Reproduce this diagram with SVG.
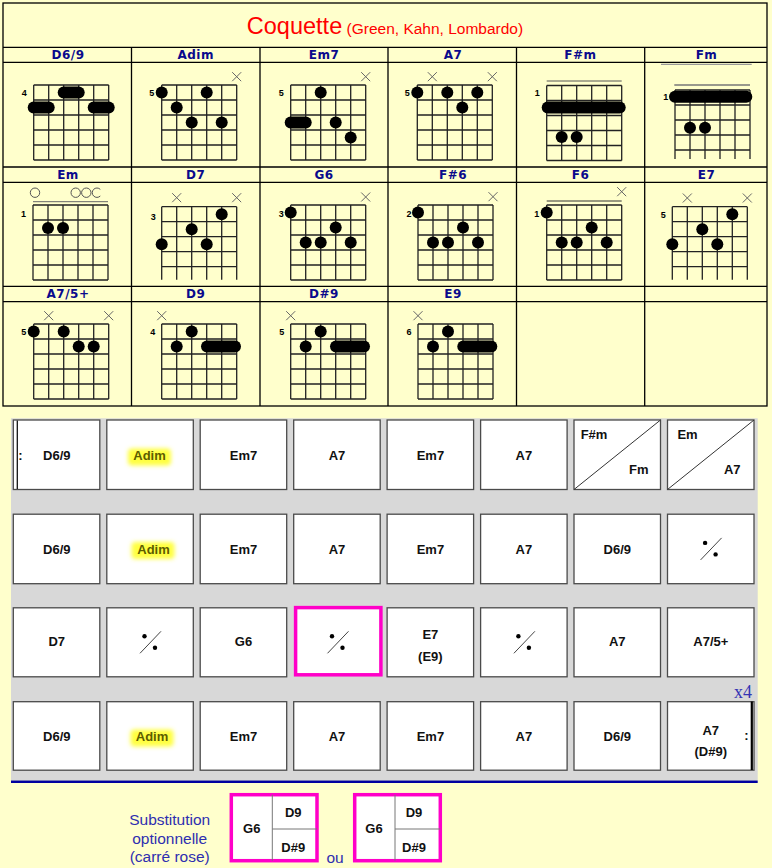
<svg xmlns="http://www.w3.org/2000/svg" xmlns:xlink="http://www.w3.org/1999/xlink" width="772" height="868" viewBox="0 0 772 868">
<style>
.tl{fill:none;stroke:#000;stroke-width:1.3}
.grid{fill:none;stroke:#222;stroke-width:1.3}
.lite{fill:none;stroke:#888;stroke-width:1}
.hd{font-family:"DejaVu Sans",Verdana,sans-serif;font-weight:bold;font-size:12px;fill:#0a0a8c;text-anchor:middle;letter-spacing:0.5px}
.fn{font-family:"Liberation Sans",Arial,sans-serif;font-weight:bold;font-size:9px;fill:#000;text-anchor:middle}
.cell{fill:#fff;stroke:#4a4a4a;stroke-width:1.3}
.ct{font-family:"Liberation Sans",Arial,sans-serif;font-weight:bold;font-size:13px;fill:#111;text-anchor:middle}
.adim{font-family:"Liberation Sans",Arial,sans-serif;font-weight:bold;font-size:13px;fill:#5c5c00;text-anchor:middle}
.hl{fill:#ffff40;filter:url(#glow)}
.pink{fill:#fff;stroke:#ff00c8;stroke-width:3.5}
.blue{font-family:"Liberation Sans",Arial,sans-serif;font-size:15.5px;fill:#2e2eb0;text-anchor:middle}
</style>
<defs>
<filter id="glow" x="-50%" y="-80%" width="200%" height="260%"><feGaussianBlur stdDeviation="2.2"/></filter>
<path id="g5" class="grid" d="M0 0H75M0 15H75M0 30H75M0 45H75M0 60H75M0 75H75M0 0V75M15 0V75M30 0V75M45 0V75M60 0V75M75 0V75"/>
<path id="gop" class="grid" d="M0 0H75M0 15H75M0 30H75M0 45H75M0 60H75M0 0V73M15 0V73M30 0V73M45 0V73M60 0V73M75 0V73"/>
<path id="xm" fill="none" stroke="#666" stroke-width="1" d="M-4.5 -4.5L4.5 4.5M4.5 -4.5L-4.5 4.5"/>
<circle id="d" r="6" fill="#000"/>
<g id="rpt"><line x1="-10" y1="11" x2="11" y2="-11" stroke="#444" stroke-width="1"/><circle cx="-5.5" cy="-6" r="2.2" fill="#000"/><circle cx="5" cy="5.5" r="2.2" fill="#000"/></g>
</defs>
<rect width="772" height="868" fill="#ffffcc"/>

<g id="chord-table">
<rect x="3" y="3" width="764" height="403" fill="#fff" class="tl"/>
<path class="tl" d="M3 47.3H767M3 62.3H767M3 167H767M3 182.3H767M3 286.3H767M3 301.7H767M131.5 47.3V406M260 47.3V406M388 47.3V406M516.5 47.3V406M644.7 47.3V406"/>
<text x="385" y="33.5" text-anchor="middle" font-family="'Liberation Sans',Tahoma,sans-serif" fill="#ff0000"><tspan font-size="23.5">Coquette</tspan><tspan font-size="15.5"> (Green, Kahn, Lombardo)</tspan></text>
<text class="hd" x="68" y="58.5">D6/9</text>
<text class="hd" x="195.7" y="58.5">Adim</text>
<text class="hd" x="324" y="58.5">Em7</text>
<text class="hd" x="453" y="58.5">A7</text>
<text class="hd" x="580.5" y="58.5">F#m</text>
<text class="hd" x="706.5" y="58.5">Fm</text>
<text class="hd" x="68" y="178.8">Em</text>
<text class="hd" x="195.7" y="178.8">D7</text>
<text class="hd" x="324" y="178.8">G6</text>
<text class="hd" x="453" y="178.8">F#6</text>
<text class="hd" x="580.5" y="178.8">F6</text>
<text class="hd" x="706.5" y="178.8">E7</text>
<text class="hd" x="68" y="298.3">A7/5+</text>
<text class="hd" x="195.7" y="298.3">D9</text>
<text class="hd" x="324" y="298.3">D#9</text>
<text class="hd" x="453" y="298.3">E9</text>
</g>

<g id="chord-D69" transform="translate(33.7,85)">
<use href="#g5"/><text class="fn" x="-9.5" y="11">4</text>
<rect x="24" y="1.5" width="27" height="12" rx="6"/>
<rect x="-6" y="16.5" width="27" height="12" rx="6"/>
<rect x="54" y="16.5" width="27" height="12" rx="6"/>
</g>
<g id="chord-Adim" transform="translate(161.7,85)">
<use href="#g5"/><text class="fn" x="-10" y="11">5</text><use href="#xm" x="75" y="-8.3"/>
<use href="#d" x="0" y="7.5"/><use href="#d" x="45" y="7.5"/><use href="#d" x="15" y="22.5"/><use href="#d" x="30" y="37.5"/><use href="#d" x="60" y="37.5"/>
</g>
<g id="chord-Em7" transform="translate(290.7,85)">
<use href="#g5"/><text class="fn" x="-9.5" y="11">5</text><use href="#xm" x="75" y="-8.3"/>
<use href="#d" x="30" y="7.5"/><rect x="-6" y="31.5" width="27" height="12" rx="6"/><use href="#d" x="45" y="37.5"/><use href="#d" x="60" y="52.5"/>
</g>
<g id="chord-A7" transform="translate(417.3,85)">
<use href="#g5"/><text class="fn" x="-10" y="11">5</text><use href="#xm" x="15" y="-8.3"/><use href="#xm" x="75" y="-8.3"/>
<use href="#d" x="0" y="7.5"/><use href="#d" x="30" y="7.5"/><use href="#d" x="60" y="7.5"/><use href="#d" x="45" y="22.5"/>
</g>
<g id="chord-Fsm" transform="translate(546.7,85.5)">
<line x1="0" y1="-4.5" x2="75" y2="-4.5" stroke="#555" stroke-width="1"/>
<use href="#g5"/><text class="fn" x="-9.5" y="10.5">1</text>
<rect x="-5" y="16" width="84" height="12" rx="6"/>
<use href="#d" x="15" y="51.5"/><use href="#d" x="30" y="51.5"/>
</g>
<g id="chord-Fm" transform="translate(675,90)">
<line x1="-14" y1="-25.7" x2="76.7" y2="-25.7" stroke="#999" stroke-width="1.3"/>
<line x1="-0.7" y1="-5" x2="75" y2="-5" stroke="#777" stroke-width="1.3"/>
<path class="grid" d="M0 0H75M0 15H75M0 30H75M0 45H75M0 60H75M0 0V69M15 0V69M30 0V69M45 0V69M60 0V69M75 0V69"/>
<text class="fn" x="-9.3" y="10">1</text>
<rect x="-6" y="0.7" width="83.3" height="12" rx="6"/>
<use href="#d" x="15" y="37.7"/><use href="#d" x="30" y="37.7"/>
</g>

<g id="chord-Em" transform="translate(33,205)">
<g fill="none" stroke="#555" stroke-width="1"><circle cx="2" cy="-12.3" r="4.7"/><circle cx="42.7" cy="-12.3" r="4.7"/><circle cx="53.3" cy="-12.3" r="4.7"/><path d="M67.3 -15.6A4.7 4.7 0 1 0 67.3 -9"/></g>
<line x1="0" y1="-3.3" x2="75" y2="-3.3" stroke="#666" stroke-width="1"/>
<use href="#g5"/><text class="fn" x="-9.5" y="11.5">1</text>
<use href="#d" x="15" y="23"/><use href="#d" x="30" y="23"/>
</g>
<g id="chord-D7" transform="translate(161.7,206.7)">
<use href="#gop"/><text class="fn" x="-8.5" y="13">3</text><use href="#xm" x="15" y="-9"/><use href="#xm" x="75" y="-9"/>
<use href="#d" x="60" y="7.5"/><use href="#d" x="30" y="22.5"/><use href="#d" x="0" y="37.5"/><use href="#d" x="45" y="37.5"/>
</g>
<g id="chord-G6" transform="translate(290.7,205)">
<use href="#g5"/><text class="fn" x="-9.5" y="11.5">3</text><use href="#xm" x="75" y="-8"/>
<use href="#d" x="0" y="7.5"/><use href="#d" x="45" y="22.5"/><use href="#d" x="15" y="37.5"/><use href="#d" x="30" y="37.5"/><use href="#d" x="60" y="37.5"/>
</g>
<g id="chord-Fs6" transform="translate(418,205)">
<use href="#g5"/><text class="fn" x="-9" y="11.5">2</text><use href="#xm" x="75" y="-8.3"/>
<use href="#d" x="0" y="7.5"/><use href="#d" x="45" y="22.5"/><use href="#d" x="15" y="37.5"/><use href="#d" x="30" y="37.5"/><use href="#d" x="60" y="37.5"/>
</g>
<g id="chord-F6" transform="translate(546.7,205)">
<line x1="0" y1="-4" x2="75" y2="-4" stroke="#333" stroke-width="1"/>
<use href="#g5"/><text class="fn" x="-10" y="11.5">1</text><use href="#xm" x="75" y="-13.3"/>
<use href="#d" x="0" y="7.5"/><use href="#d" x="45" y="22.5"/><use href="#d" x="15" y="37.5"/><use href="#d" x="30" y="37.5"/><use href="#d" x="60" y="37.5"/>
</g>
<g id="chord-E7" transform="translate(672.3,206.7)">
<use href="#gop"/><text class="fn" x="-9" y="11.5">5</text><use href="#xm" x="15" y="-8.7"/><use href="#xm" x="75" y="-8.7"/>
<use href="#d" x="60" y="7.5"/><use href="#d" x="30" y="22.5"/><use href="#d" x="0" y="37.5"/><use href="#d" x="45" y="37.5"/>
</g>

<g id="chord-A75p" transform="translate(33.7,324)">
<use href="#g5"/><text class="fn" x="-10" y="11">5</text><use href="#xm" x="15" y="-8.3"/><use href="#xm" x="75" y="-8.3"/>
<use href="#d" x="0" y="7.5"/><use href="#d" x="30" y="7.5"/><use href="#d" x="45" y="22.5"/><use href="#d" x="60" y="22.5"/>
</g>
<g id="chord-D9" transform="translate(161.7,324)">
<use href="#g5"/><text class="fn" x="-9" y="11">4</text><use href="#xm" x="0" y="-8.3"/>
<use href="#d" x="30" y="7.5"/><use href="#d" x="15" y="22.5"/><rect x="39.3" y="16.5" width="40" height="12" rx="6"/>
</g>
<g id="chord-Ds9" transform="translate(290.7,324)">
<use href="#g5"/><text class="fn" x="-9" y="11">5</text><use href="#xm" x="0" y="-8.3"/>
<use href="#d" x="30" y="7.5"/><use href="#d" x="15" y="22.5"/><rect x="39.3" y="16.5" width="40" height="12" rx="6"/>
</g>
<g id="chord-E9" transform="translate(418,324)">
<use href="#g5"/><text class="fn" x="-9" y="11">6</text><use href="#xm" x="0" y="-8.3"/>
<use href="#d" x="30" y="7.5"/><use href="#d" x="15" y="22.5"/><rect x="39.3" y="16.5" width="40" height="12" rx="6"/>
</g>

<g id="grid-panel">
<rect x="11" y="418.3" width="746.7" height="362" fill="#d8d8d8"/>
<line x1="11" y1="781.7" x2="757.7" y2="781.7" stroke="#0000a0" stroke-width="2.5"/>
</g>

<g id="row1">
<rect class="cell" x="13.3" y="420" width="86.5" height="69.5"/>
<line x1="17.3" y1="420.6" x2="17.3" y2="489" stroke="#111" stroke-width="1.3"/>
<text class="ct" x="20.5" y="459.5">:</text>
<text class="ct" x="56.8" y="459.5">D6/9</text>
<rect class="cell" x="106.8" y="420" width="86.5" height="69.5"/>
<rect class="hl" x="128" y="448.5" width="43" height="17" rx="4"/>
<text class="adim" x="149.5" y="460">Adim</text>
<rect class="cell" x="200.2" y="420" width="86.5" height="69.5"/><text class="ct" x="243.5" y="459.5">Em7</text>
<rect class="cell" x="293.7" y="420" width="86.5" height="69.5"/><text class="ct" x="337" y="459.5">A7</text>
<rect class="cell" x="387.1" y="420" width="86.5" height="69.5"/><text class="ct" x="430.4" y="459.5">Em7</text>
<rect class="cell" x="480.6" y="420" width="86.5" height="69.5"/><text class="ct" x="523.9" y="459.5">A7</text>
<rect class="cell" x="574" y="420" width="86.5" height="69.5"/>
<line x1="574" y1="489.5" x2="660.5" y2="420" stroke="#333" stroke-width="1"/>
<text class="ct" x="594" y="438.5">F#m</text><text class="ct" x="638.7" y="473.5">Fm</text>
<rect class="cell" x="667.5" y="420" width="86.5" height="69.5"/>
<line x1="667.5" y1="489.5" x2="754" y2="420" stroke="#333" stroke-width="1"/>
<text class="ct" x="687.5" y="438.5">Em</text><text class="ct" x="732.2" y="473.5">A7</text>
</g>

<g id="row2">
<rect class="cell" x="13.3" y="514.2" width="86.5" height="69.5"/><text class="ct" x="56.8" y="553.5">D6/9</text>
<rect class="cell" x="106.8" y="514.2" width="86.5" height="69.5"/>
<rect class="hl" x="131.5" y="542" width="43" height="17" rx="4"/>
<text class="adim" x="153.5" y="553.5">Adim</text>
<rect class="cell" x="200.2" y="514.2" width="86.5" height="69.5"/><text class="ct" x="243.5" y="553.5">Em7</text>
<rect class="cell" x="293.7" y="514.2" width="86.5" height="69.5"/><text class="ct" x="337" y="553.5">A7</text>
<rect class="cell" x="387.1" y="514.2" width="86.5" height="69.5"/><text class="ct" x="430.4" y="553.5">Em7</text>
<rect class="cell" x="480.6" y="514.2" width="86.5" height="69.5"/><text class="ct" x="523.9" y="553.5">A7</text>
<rect class="cell" x="574" y="514.2" width="86.5" height="69.5"/><text class="ct" x="617.3" y="553.5">D6/9</text>
<rect class="cell" x="667.5" y="514.2" width="86.5" height="69.5"/><use href="#rpt" x="710.6" y="548.9"/>
</g>

<g id="row3">
<rect class="cell" x="13.3" y="607.8" width="86.5" height="69"/><text class="ct" x="56.8" y="646">D7</text>
<rect class="cell" x="106.8" y="607.8" width="86.5" height="69"/><use href="#rpt" x="150" y="642.3"/>
<rect class="cell" x="200.2" y="607.8" width="86.5" height="69"/><text class="ct" x="243.5" y="646">G6</text>
<rect class="pink" x="295.6" y="607.6" width="85.3" height="67.2"/><use href="#rpt" x="337.5" y="642.3"/>
<rect class="cell" x="387.1" y="607.8" width="86.5" height="69"/><text class="ct" x="430.4" y="638.5">E7</text><text class="ct" x="430.4" y="660.5">(E9)</text>
<rect class="cell" x="480.6" y="607.8" width="86.5" height="69"/><use href="#rpt" x="523.9" y="642.3"/>
<rect class="cell" x="574" y="607.8" width="86.5" height="69"/><text class="ct" x="617.3" y="646">A7</text>
<rect class="cell" x="667.5" y="607.8" width="86.5" height="69"/><text class="ct" x="710.8" y="646">A7/5+</text>
</g>

<g id="row4">
<rect class="cell" x="13.3" y="701.7" width="86.5" height="68.5"/><text class="ct" x="56.8" y="740.5">D6/9</text>
<rect class="cell" x="106.8" y="701.7" width="86.5" height="68.5"/>
<rect class="hl" x="130.5" y="729.5" width="43" height="17" rx="4"/>
<text class="adim" x="152" y="741">Adim</text>
<rect class="cell" x="200.2" y="701.7" width="86.5" height="68.5"/><text class="ct" x="243.5" y="740.5">Em7</text>
<rect class="cell" x="293.7" y="701.7" width="86.5" height="68.5"/><text class="ct" x="337" y="740.5">A7</text>
<rect class="cell" x="387.1" y="701.7" width="86.5" height="68.5"/><text class="ct" x="430.4" y="740.5">Em7</text>
<rect class="cell" x="480.6" y="701.7" width="86.5" height="68.5"/><text class="ct" x="523.9" y="740.5">A7</text>
<rect class="cell" x="574" y="701.7" width="86.5" height="68.5"/><text class="ct" x="617.3" y="740.5">D6/9</text>
<rect class="cell" x="667.5" y="701.7" width="86.5" height="68.5"/>
<line x1="751.8" y1="701.5" x2="751.8" y2="770" stroke="#000" stroke-width="2.2"/>
<text class="ct" x="746.5" y="740">:</text>
<text class="ct" x="710.8" y="735">A7</text><text class="ct" x="710.8" y="755.5">(D#9)</text>
<text x="752" y="697.5" text-anchor="end" font-family="'Liberation Serif',serif" font-size="18" fill="#3434b4">x4</text>
</g>

<g id="substitution">
<text class="blue" x="169.7" y="825">Substitution</text>
<text class="blue" x="169.7" y="843.5">optionnelle</text>
<text class="blue" x="169.7" y="861.5">(carré rose)</text>
<rect class="pink" x="231.3" y="794.7" width="85.7" height="66" stroke-width="4"/>
<path d="M272.3 794.7V860.7M272.3 829H317" stroke="#777" stroke-width="1" fill="none"/>
<text class="ct" x="251.7" y="832.7">G6</text><text class="ct" x="293.3" y="816.7">D9</text><text class="ct" x="293.3" y="851.7">D#9</text>
<text class="blue" x="335" y="862.5">ou</text>
<rect class="pink" x="354.7" y="794.7" width="85.6" height="66" stroke-width="4"/>
<path d="M395 794.7V860.7M395 829H440.3" stroke="#777" stroke-width="1" fill="none"/>
<text class="ct" x="374" y="832.7">G6</text><text class="ct" x="414" y="816.7">D9</text><text class="ct" x="414" y="851.7">D#9</text>
</g>
</svg>
